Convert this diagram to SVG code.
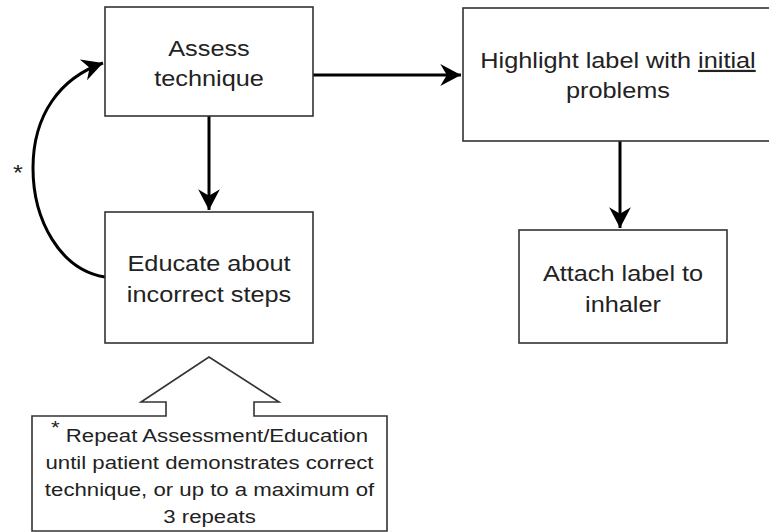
<svg xmlns="http://www.w3.org/2000/svg" width="769" height="532" viewBox="0 0 769 532">
<style>
.box{fill:#fff;stroke:#333;stroke-width:1.6}
.t{font-family:"Liberation Sans",Arial,sans-serif;font-size:22px;fill:#222;text-anchor:middle}
.s{font-family:"Liberation Sans",Arial,sans-serif;font-size:18.5px;fill:#222;text-anchor:middle}
.c{fill:none;stroke:#000;stroke-width:3}
</style>
<defs>
<marker id="ah" markerUnits="userSpaceOnUse" markerWidth="24" markerHeight="24" viewBox="-20 -10 22 20" refX="0" refY="0" orient="auto">
<path d="M0,0 L-19,-10 L-13,0 L-19,10 Z" fill="#000"/>
</marker>
</defs>
<rect width="769" height="532" fill="#fff"/>
<g id="connectors">
<path class="c" d="M313,75 L461,75" marker-end="url(#ah)"/>
<path class="c" d="M209,116 L209,210" marker-end="url(#ah)"/>
<path class="c" d="M620,141 L620,228" marker-end="url(#ah)"/>
<path class="c" d="M105,277 C60,270 33,220 33,168 C33,115 60,78 103,63" marker-end="url(#ah)"/>
<text class="t" transform="translate(18 0) scale(1.15 1)" x="0" y="180" font-size="28">*</text>
</g>
<g id="assess">
<rect class="box" x="105" y="7" width="208" height="109"/>
<g transform="translate(209 0) scale(1.15 1)">
<text class="t" x="0" y="56">Assess</text>
<text class="t" x="0" y="86">technique</text>
</g>
</g>
<g id="highlight">
<rect class="box" x="463" y="8" width="310" height="133"/>
<g transform="translate(618 0) scale(1.15 1)">
<text class="t" x="0" y="68">Highlight label with <tspan text-decoration="underline">initial</tspan></text>
<text class="t" x="0" y="98">problems</text>
</g>
</g>
<g id="educate">
<rect class="box" x="105" y="212" width="208" height="131"/>
<g transform="translate(209 0) scale(1.15 1)">
<text class="t" x="0" y="271">Educate about</text>
<text class="t" x="0" y="302">incorrect steps</text>
</g>
</g>
<g id="attach">
<rect class="box" x="519" y="230" width="208" height="113"/>
<g transform="translate(623 0) scale(1.15 1)">
<text class="t" x="0" y="281">Attach label to</text>
<text class="t" x="0" y="312">inhaler</text>
</g>
</g>
<g id="note">
<path class="box" d="M32,416 L166,416 L166,402 L141,402 L209,357 L279,402 L254,402 L254,416 L387,416 L387,531 L32,531 Z"/>
<g transform="translate(209.5 0) scale(1.2 1)">
<text class="s" x="0" y="442"><tspan dy="-8">*</tspan><tspan dy="8"> Repeat Assessment/Education</tspan></text>
<text class="s" x="0" y="469">until patient demonstrates correct</text>
<text class="s" x="0" y="496">technique, or up to a maximum of</text>
<text class="s" x="0" y="523">3 repeats</text>
</g>
</g>
</svg>
